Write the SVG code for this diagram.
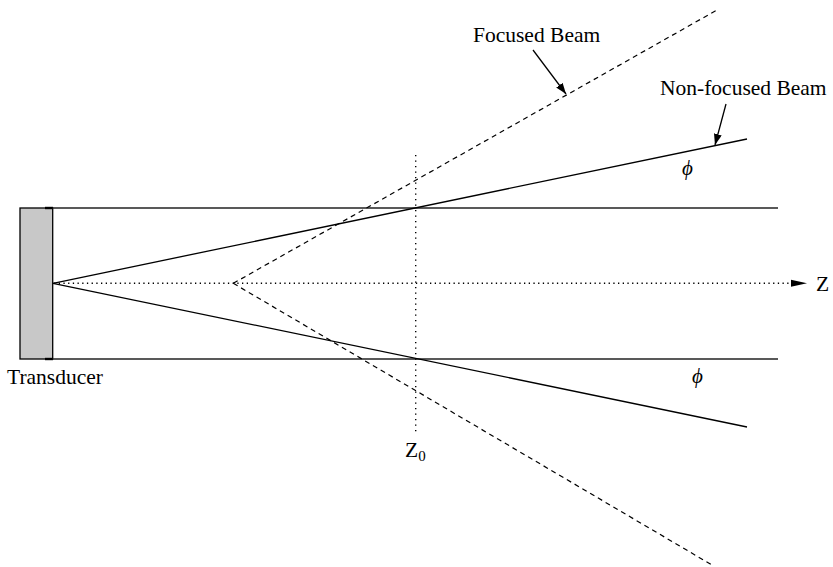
<svg xmlns="http://www.w3.org/2000/svg" width="833" height="567" viewBox="0 0 833 567">
  <style>
    .txt { font-family: "Liberation Serif", "Times New Roman", serif; font-size: 21.5px; fill: #000; }
    .phi { font-family: "Liberation Serif", "DejaVu Serif", serif; font-style: italic; font-size: 21px; fill: #000; }
    .solid { stroke: #000; stroke-width: 1.3; fill: none; }
    .bound { stroke: #222; stroke-width: 1.3; fill: none; }
    .dash { stroke: #000; stroke-width: 1.2; fill: none; stroke-dasharray: 5 4; }
    .dot { stroke: #000; stroke-width: 1.5; fill: none; stroke-dasharray: 1.3 3.4; }
    .vdot { stroke: #000; stroke-width: 1.4; fill: none; stroke-dasharray: 1.3 4.2; }
    .ptr { stroke: #000; stroke-width: 1.3; fill: none; marker-end: url(#ah); }
  </style>
  <defs>
    <marker id="ah" markerUnits="userSpaceOnUse" markerWidth="11" markerHeight="8" refX="11" refY="4" orient="auto">
      <path d="M0,0 L11,4 L0,8 z" fill="#000"/>
    </marker>
    <marker id="zh" markerUnits="userSpaceOnUse" markerWidth="16" markerHeight="8" refX="16" refY="4" orient="auto">
      <path d="M0,0.5 L16,4 L0,7.5 z" fill="#000"/>
    </marker>
  </defs>

  <g id="transducer">
    <rect x="20" y="208" width="32.7" height="151" fill="#c8c8c8" stroke="#000" stroke-width="1.3"/>
    <line x1="45" y1="208" x2="53" y2="208" stroke="#000" stroke-width="2.4"/>
    <line x1="45" y1="359" x2="53" y2="359" stroke="#000" stroke-width="2.4"/>
    <text class="txt" x="7" y="384">Transducer</text>
  </g>

  <g id="connectors">
    <!-- boundary lines -->
    <line class="bound" x1="52.7" y1="208" x2="778" y2="208"/>
    <line class="bound" x1="52.7" y1="359" x2="778" y2="359"/>
    <!-- axis -->
    <line class="dot" x1="54" y1="283.3" x2="792" y2="283.3"/>
    <line x1="790" y1="283.3" x2="807" y2="283.3" stroke="#000" stroke-width="0.01" marker-end="url(#zh)"/>
    <!-- non-focused beam -->
    <line class="solid" x1="53" y1="283.3" x2="747" y2="139"/>
    <line class="solid" x1="53" y1="283.3" x2="747" y2="427"/>
    <!-- focused beam -->
    <line class="dash" x1="233.3" y1="283.3" x2="717" y2="10"/>
    <line class="dash" x1="233.3" y1="283.3" x2="712" y2="565"/>
    <!-- Z0 marker -->
    <line class="vdot" x1="415.7" y1="155" x2="415.7" y2="432"/>
    <!-- label pointers -->
    <line class="ptr" x1="533" y1="50" x2="566" y2="94"/>
    <line class="ptr" x1="726" y1="104" x2="715" y2="145"/>
  </g>

  <g id="label-focused">
    <text class="txt" x="473" y="42">Focused Beam</text>
  </g>
  <g id="label-nonfocused">
    <text class="txt" x="660" y="95">Non-focused Beam</text>
  </g>
  <g id="label-z">
    <text class="txt" x="816" y="291">Z</text>
  </g>
  <g id="label-z0">
    <text class="txt" x="405" y="457">Z<tspan font-size="15" dy="3.5">0</tspan></text>
  </g>
  <g id="label-phi-upper">
    <text class="phi" x="682" y="174.5">ϕ</text>
  </g>
  <g id="label-phi-lower">
    <text class="phi" x="692" y="383">ϕ</text>
  </g>
</svg>
